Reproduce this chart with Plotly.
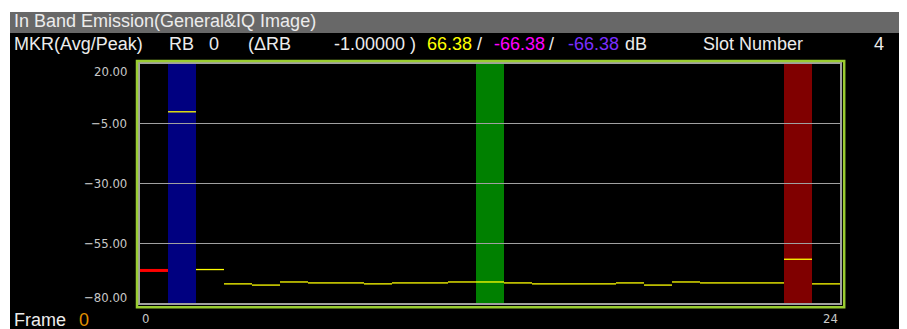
import plotly.graph_objects as go

# ---------------- data ----------------
rb_index = list(range(25))
rb_level_db = [-66.38, 0.0, -66.0, -72.0, -72.5, -71.2, -71.6, -71.6, -72.0, -71.6,
               -71.6, -71.2, -71.2, -71.6, -72.0, -72.0, -72.0, -71.6, -72.5, -71.2,
               -71.6, -71.6, -71.6, -61.7, -72.0]
alloc_rb = [1, 12, 23]
alloc_colors = ["#000080", "#008000", "#800000"]
marker_rb = 0
y_ticks = [20, -5, -30, -55, -80]
y_tick_text = ["20.00", "\u22125.00", "\u221230.00", "\u221255.00", "\u221280.00"]
x_tick_vals = [0, 24]
x_tick_text = ["0", "24"]
y_min, y_max = -80, 20

W, H = 907, 329
OFF = 8                          # page body margin
L, R, T, B = 140, 840, 64, 303   # plot area in page pixels


def px(x):
    return (x - L) / (R - L)


def py(y):
    return (B - y) / (B - T)


fig = go.Figure()

# yellow per-RB level segments
xs, ys = [], []
for i, v in zip(rb_index, rb_level_db):
    xs += [i - 0.5, i + 0.5, None]
    ys += [v, v, None]
fig.add_trace(go.Scatter(x=xs, y=ys, mode="lines",
                         line=dict(color="#ffff00", width=1.3),
                         hoverinfo="skip", showlegend=False))
# red marker segment
fig.add_trace(go.Scatter(x=[marker_rb - 0.5, marker_rb + 0.5],
                         y=[rb_level_db[marker_rb]] * 2, mode="lines",
                         line=dict(color="#ff0000", width=3),
                         hoverinfo="skip", showlegend=False))

shapes = []
for rb, col in zip(alloc_rb, alloc_colors):
    shapes.append(dict(type="rect", xref="x", yref="y domain", x0=rb - 0.5, x1=rb + 0.5,
                       y0=0, y1=1, fillcolor=col, line=dict(width=0), layer="below"))
# page background pieces
shapes.append(dict(type="rect", xref="paper", yref="paper", x0=px(0), x1=px(10),
                   y0=py(H + 20), y1=py(0), fillcolor="#ffffff", line=dict(width=0), layer="below"))
shapes.append(dict(type="rect", xref="paper", yref="paper", x0=px(0), x1=px(W + 20),
                   y0=py(12), y1=py(0), fillcolor="#ffffff", line=dict(width=0), layer="below"))
shapes.append(dict(type="rect", xref="paper", yref="paper", x0=px(10), x1=px(W + 20),
                   y0=py(33), y1=py(12), fillcolor="#686868", line=dict(width=0), layer="below"))
# outer green frame
shapes.append(dict(type="rect", xref="paper", yref="paper", x0=px(137), x1=px(844.2),
                   y0=py(307.3), y1=py(61), line=dict(color="#9acd32", width=2.5),
                   fillcolor="rgba(0,0,0,0)", layer="above"))

ann = []
hdr_font = "Liberation Sans, Arial, sans-serif"
WHITE = "#ececec"
ann.append(dict(text="In Band Emission(General&IQ Image)", x=px(12), y=py(21.5),
                font=dict(color=WHITE, size=18, family=hdr_font)))
row_y = py(44)
row_items = [
    ("MKR(Avg/Peak)", 12, WHITE),
    ("RB", 167, WHITE),
    ("0", 207, WHITE),
    ("(\u0394RB", 246, WHITE),
    ("-1.00000 )", 332, WHITE),
    ("66.38", 425, "#ffff00"),
    ("/", 475, WHITE),
    ("-66.38", 492, "#ff00ff"),
    ("/", 547, WHITE),
    ("-66.38", 566, "#7b2fff"),
    ("dB", 623, WHITE),
    ("Slot Number", 701, WHITE),
    ("4", 872, WHITE),
]
for t, x, c in row_items:
    ann.append(dict(text=t, x=px(x), y=row_y, font=dict(color=c, size=18, family=hdr_font)))
ann.append(dict(text="Frame", x=px(12), y=py(320), font=dict(color=WHITE, size=18, family=hdr_font)))
ann.append(dict(text="0", x=px(77), y=py(320), font=dict(color="#e09000", size=18, family=hdr_font)))
for a in ann:
    a.update(xref="paper", yref="paper", xanchor="left", yanchor="middle", showarrow=False)

tick_font = dict(color="#c8c8c8", size=13, family="Liberation Sans Narrow, DejaVu Sans Condensed, Arial Narrow, sans-serif")
for v, t in zip(y_ticks, y_tick_text):
    shift = -7 if v == y_max else (6 if v == y_min else 0)
    ann.append(dict(text=t, xref="paper", yref="y", x=px(129), y=v, yshift=shift,
                    xanchor="right", yanchor="middle", showarrow=False, font=tick_font))
for v, t in zip(x_tick_vals, x_tick_text):
    ann.append(dict(text=t, xref="x", yref="paper", x=v - 0.5 if v == 0 else v + 0.5,
                    y=py(318), xanchor="left" if v == 0 else "right", yanchor="middle",
                    showarrow=False, font=tick_font))

fig.update_layout(
    width=W, height=H,
    margin=dict(l=L - OFF, r=W - (R - OFF), t=T - OFF, b=H - (B - OFF), pad=0),
    paper_bgcolor="#000000", plot_bgcolor="#000000",
    shapes=shapes, annotations=ann, showlegend=False,
    xaxis=dict(range=[-0.5, 24.5], showgrid=False, zeroline=False, showticklabels=False,
               showline=True, mirror=True, linecolor="#a0a0a0", linewidth=1.5, ticks="",
               fixedrange=True),
    yaxis=dict(range=[y_min, y_max], tickvals=y_ticks, showticklabels=False, showgrid=True,
               gridcolor="#a0a0a0", gridwidth=1, zeroline=False, showline=True, mirror=True,
               linecolor="#a0a0a0", linewidth=1.5, ticks="", fixedrange=True),
)

fig.write_html("out.html", config={"displayModeBar": False})
